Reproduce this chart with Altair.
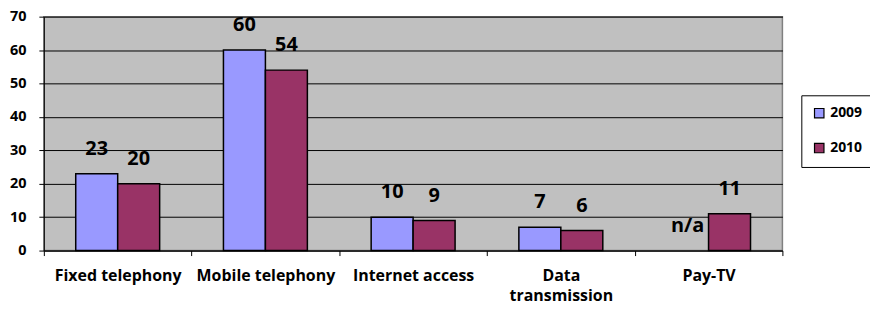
import altair as alt
import pandas as pd

categories = ["Fixed telephony", "Mobile telephony", "Internet access", "Data transmission", "Pay-TV"]
values_2009 = [23, 60, 10, 7, None]
values_2010 = [20, 54, 9, 6, 11]
years = ["2009", "2010"]
colors = ["#9999FF", "#993366"]

rows = []
for c, v in zip(categories, values_2009):
    rows.append({"category": c, "year": "2009", "value": v, "label": "n/a" if v is None else str(v)})
for c, v in zip(categories, values_2010):
    rows.append({"category": c, "year": "2010", "value": v, "label": "n/a" if v is None else str(v)})
df = pd.DataFrame(rows)

FONT = "Open Sans"

x = alt.X("category:N", sort=categories, title=None,
          scale=alt.Scale(paddingInner=0, paddingOuter=0),
          axis=alt.Axis(labelAngle=0, labelFont=FONT, labelFontSize=16, labelFontWeight="bold",
                        labelColor="black", labelPadding=12, tickBand="extent", tickSize=5,
                        tickColor="black", domainColor="black", grid=False, labelLineHeight=20,
                        labelExpr="datum.label == 'Data transmission' ? ['Data', 'transmission'] : datum.label"))
xo = alt.XOffset("year:N", sort=years, scale=alt.Scale(paddingInner=0, paddingOuter=0.76))
yscale = alt.Scale(domain=[0, 70], nice=False)
y = alt.Y("pos:Q", title=None, scale=yscale,
          axis=alt.Axis(values=[0, 10, 20, 30, 40, 50, 60, 70], labelFont=FONT, labelFontSize=14.5,
                        labelFontWeight="bold", labelColor="black", tickSize=5, tickColor="black",
                        domainColor="black", gridColor="black", gridOpacity=1, labelPadding=13))

base = alt.Chart(df).transform_calculate(pos="isValid(datum.value) ? datum.value : 0")

bars = base.transform_filter("isValid(datum.value)").mark_bar(
    stroke="black", strokeWidth=1.5
).encode(
    x=x, xOffset=xo, y=y,
    color=alt.Color("year:N", sort=years, scale=alt.Scale(domain=years, range=colors),
                    legend=alt.Legend(title=None, orient="none", legendX=761, legendY=79,
                                      symbolType="square", symbolSize=90, symbolStrokeColor="black",
                                      symbolStrokeWidth=1.2, labelFont=FONT, labelFontSize=14,
                                      labelFontWeight="bold", labelColor="black",
                                      strokeColor="black", fillColor="white", padding=11,
                                      rowPadding=19, labelOffset=4))
)

texts = base.mark_text(
    font=FONT, fontSize=20, fontWeight="bold", color="black", dy=-25
).encode(
    x=x, xOffset=xo, y=y, text="label:N"
)

chart = alt.layer(bars, texts).properties(
    width=742, height=235,
    background="white",
    autosize=alt.AutoSizeParams(type="none"),
    padding={"left": 36, "top": 8, "right": 88, "bottom": 58},
).configure_view(fill="#C0C0C0", stroke="#808080", strokeWidth=1.5)

chart.save("out.html", embed_options={"renderer": "svg", "actions": False})
